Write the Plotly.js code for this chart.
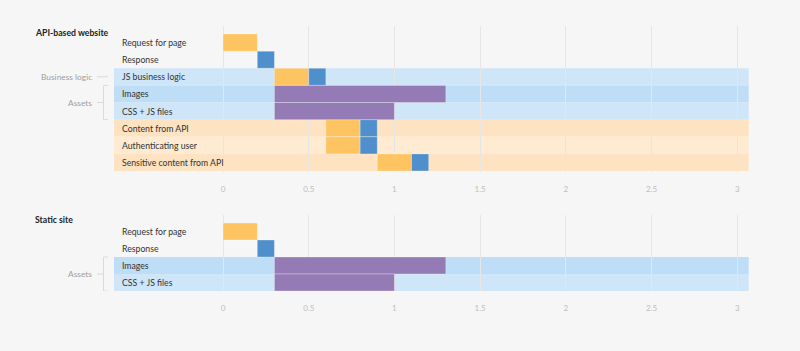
<!DOCTYPE html>
<html>
<head>
<meta charset="utf-8">
<script src="https://cdn.plot.ly/plotly-3.0.1.min.js"></script>
<style>html,body{margin:0;padding:0;background:#F6F6F6;}#chart{width:800px;height:351px;}</style>
</head>
<body>
<div id="chart"></div>
<script>
// ---------------- DATA ----------------
const panelTitles = ['API-based website', 'Static site'];

// Panel 1: API-based website
const apiRows = ['Request for page', 'Response', 'JS business logic', 'Images', 'CSS + JS files',
                 'Content from API', 'Authenticating user', 'Sensitive content from API'];
const apiTaskRow   = ['Request for page', 'Response', 'JS business logic', 'JS business logic', 'Images', 'CSS + JS files',
                      'Content from API', 'Content from API', 'Authenticating user', 'Authenticating user',
                      'Sensitive content from API', 'Sensitive content from API'];
const apiTaskType  = ['request', 'response', 'request', 'response', 'load', 'load',
                      'request', 'response', 'request', 'response', 'request', 'response'];
const apiTaskStart = [0, 0.2, 0.3, 0.5, 0.3, 0.3, 0.6, 0.8, 0.6, 0.8, 0.9, 1.1];
const apiTaskEnd   = [0.2, 0.3, 0.5, 0.6, 1.3, 1.0, 0.8, 0.9, 0.8, 0.9, 1.1, 1.2];
const apiGroups = [{name: 'Business logic', rows: ['JS business logic']},
                   {name: 'Assets', rows: ['Images', 'CSS + JS files']}];

// Panel 2: Static site
const staticRows = ['Request for page', 'Response', 'Images', 'CSS + JS files'];
const staticTaskRow   = ['Request for page', 'Response', 'Images', 'CSS + JS files'];
const staticTaskType  = ['request', 'response', 'load', 'load'];
const staticTaskStart = [0, 0.2, 0.3, 0.3];
const staticTaskEnd   = [0.2, 0.3, 1.3, 1.0];
const staticGroups = [{name: 'Assets', rows: ['Images', 'CSS + JS files']}];

const tickValues = [0, 0.5, 1, 1.5, 2, 2.5, 3];
const tickLabels = ['0', '0.5', '1', '1.5', '2', '2.5', '3'];

// ---------------- STYLE ----------------
const W = 800, H = 351;
const FONT = 'Lato, "Noto Sans", sans-serif';
const typeColor = {request: '#FEC461', response: '#4F8FCC', load: '#957BB5'};
const apiBand = [null, null, '#CFE5F8', '#BDDEF6', '#CFE5F8', '#FDE3C1', '#FEEBD1', '#FDE3C1'];
const staticBand = [null, null, '#BDDEF6', '#CFE5F8'];
const xDomain = [114 / W, 748.7 / W];
const xRange = [-0.636, 3.067];
const panelsGeom = [
  {top: 26, bottom: 172, rowTop: 34, rowH: 17.125, titleY: 32},
  {top: 215, bottom: 291, rowTop: 223, rowH: 17, titleY: 219}
];

const panels = [
  {rows: apiRows, tRow: apiTaskRow, tType: apiTaskType, tStart: apiTaskStart, tEnd: apiTaskEnd, groups: apiGroups, band: apiBand},
  {rows: staticRows, tRow: staticTaskRow, tType: staticTaskType, tStart: staticTaskStart, tEnd: staticTaskEnd, groups: staticGroups, band: staticBand}
];

const traces = [];
const shapes = [];
const annotations = [];
const layout = {
  width: W, height: H,
  margin: {l: 0, r: 0, t: 0, b: 0},
  paper_bgcolor: '#F6F6F6', plot_bgcolor: 'rgba(0,0,0,0)',
  showlegend: false, barmode: 'overlay', hovermode: false,
  font: {family: FONT}
};

panels.forEach((p, pi) => {
  const g = panelsGeom[pi];
  const xa = pi === 0 ? 'x' : 'x2';
  const ya = pi === 0 ? 'y' : 'y2';
  const n = p.rows.length;
  const rTop = -0.5 - (g.rowTop - g.top) / g.rowH;
  const rBot = n - 0.5 + (g.bottom - (g.rowTop + n * g.rowH)) / g.rowH;
  layout[pi === 0 ? 'xaxis' : 'xaxis2'] = {
    domain: xDomain, range: xRange, anchor: ya,
    tickvals: tickValues, ticktext: tickLabels,
    showgrid: true, gridcolor: '#E6E6E6', gridwidth: 1, zeroline: false,
    showline: false, ticks: 'outside', ticklen: 9, tickcolor: 'rgba(0,0,0,0)',
    tickfont: {size: 8, color: '#BDBDBD', family: FONT}, fixedrange: true
  };
  layout[pi === 0 ? 'yaxis' : 'yaxis2'] = {
    domain: [1 - g.bottom / H, 1 - g.top / H], range: [rBot, rTop], anchor: xa,
    showgrid: false, zeroline: false, showticklabels: false, showline: false, fixedrange: true
  };
  // row bands
  p.rows.forEach((r, i) => {
    if (!p.band[i]) return;
    shapes.push({type: 'rect', layer: 'below', xref: xa + ' domain', yref: ya,
      x0: 0, x1: 1, y0: i - 0.5, y1: i + 0.5, fillcolor: p.band[i], line: {width: 0}});
  });
  // task bars
  ['request', 'response', 'load'].forEach(t => {
    const ys = [], xs = [], bs = [];
    p.tRow.forEach((r, k) => {
      if (p.tType[k] !== t) return;
      ys.push(p.rows.indexOf(r));
      bs.push(p.tStart[k]);
      xs.push(p.tEnd[k] - p.tStart[k]);
    });
    traces.push({type: 'bar', orientation: 'h', xaxis: xa, yaxis: ya,
      y: ys, x: xs, base: bs, width: 1,
      marker: {color: typeColor[t], line: {color: 'rgba(255,255,255,0.3)', width: 1}},
      hoverinfo: 'skip'});
  });
  // row labels
  p.rows.forEach((r, i) => {
    annotations.push({xref: 'paper', yref: ya, x: 120 / W, y: i, xanchor: 'left', yanchor: 'middle',
      text: r, showarrow: false, font: {size: 8.7, color: '#333333', family: FONT}});
  });
  // title
  annotations.push({xref: 'paper', yref: 'paper', x: 33 / W, y: 1 - g.titleY / H, xanchor: 'left', yanchor: 'middle',
    text: '<b>' + panelTitles[pi] + '</b>', showarrow: false, font: {size: 8.7, color: '#222', family: FONT}});
  // group labels & brackets
  const bc = '#DADADA';
  p.groups.forEach(gr => {
    const idx = gr.rows.map(r => p.rows.indexOf(r));
    const a = Math.min(...idx) - 0.5, b = Math.max(...idx) + 0.5, mid = (a + b) / 2;
    annotations.push({xref: 'paper', yref: ya, x: 94 / W, y: mid, xanchor: 'right', yanchor: 'middle',
      text: gr.name, showarrow: false, font: {size: 8.4, color: '#9E9E9E', family: FONT}});
    if (idx.length === 1) {
      shapes.push({type: 'line', xref: 'paper', yref: ya, x0: 97 / W, x1: 108 / W, y0: mid, y1: mid, line: {color: bc, width: 1}});
    } else {
      const xv = 103.5 / W;
      shapes.push({type: 'line', xref: 'paper', yref: ya, x0: xv, x1: xv, y0: a, y1: b, line: {color: bc, width: 1}});
      shapes.push({type: 'line', xref: 'paper', yref: ya, x0: xv, x1: 108 / W, y0: a, y1: a, line: {color: bc, width: 1}});
      shapes.push({type: 'line', xref: 'paper', yref: ya, x0: xv, x1: 108 / W, y0: b, y1: b, line: {color: bc, width: 1}});
      shapes.push({type: 'line', xref: 'paper', yref: ya, x0: 97 / W, x1: xv, y0: mid, y1: mid, line: {color: bc, width: 1}});
    }
  });
});

layout.shapes = shapes;
layout.annotations = annotations;
Plotly.newPlot('chart', traces, layout, {staticPlot: true, displayModeBar: false});
</script>
</body>
</html>
